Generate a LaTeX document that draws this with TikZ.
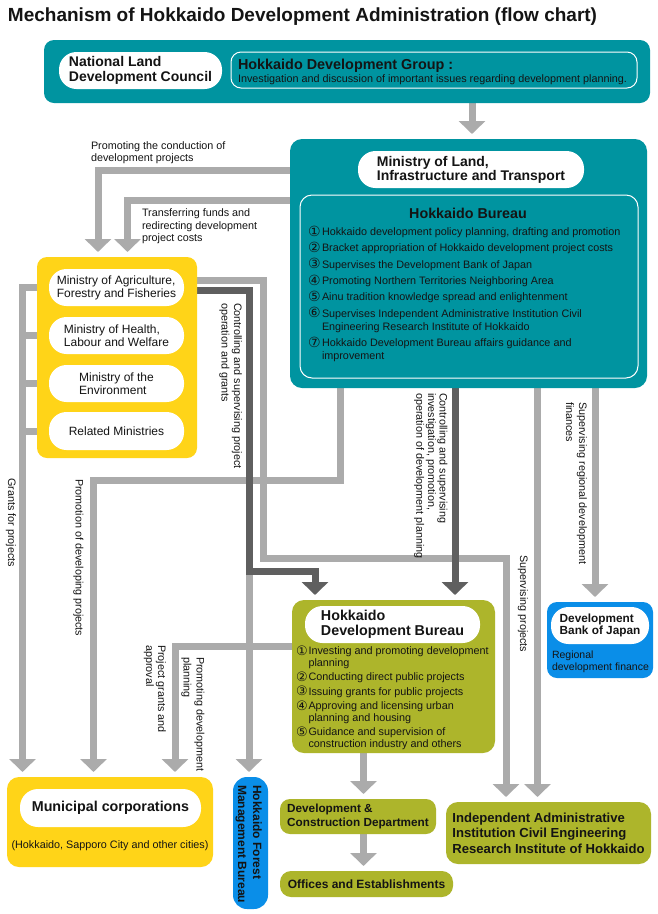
\documentclass[tikz,border=0pt]{standalone}
\usepackage{fontspec}
\setmainfont{Liberation Sans}
\newfontfamily\symf{DejaVu Sans}
\usetikzlibrary{arrows.meta}
\definecolor{teal1}{RGB}{0,148,160}
\definecolor{ylw1}{RGB}{255,212,24}
\definecolor{olive1}{RGB}{173,181,43}
\definecolor{blue1}{RGB}{10,142,232}
\definecolor{lgray}{RGB}{171,171,171}
\definecolor{dgray}{RGB}{95,95,95}
\definecolor{txt}{RGB}{20,20,20}
\pgfdeclarelayer{bg}
\pgfsetlayers{bg,main}
\newcommand\fsz[2]{\fontsize{#1}{#2}\selectfont}
\newcommand\cnum[3]{\makebox[#1][l]{\smash{\raisebox{-0.6pt}{\symf\fontsize{#2}{#2}\selectfont #3}}}}
\tikzset{
  box/.style={rectangle, inner sep=0pt, outer sep=0pt, anchor=north west},
  pill/.style={box, fill=white, text=txt},
  lg/.style={draw=lgray, line width=7pt, line join=miter},
  dg/.style={draw=dgray, line width=7pt, line join=miter},
  arrowend/.style={-{Triangle[width=26pt,length=13pt]}, shorten >=5pt},
  lbl/.style={inner sep=0pt, outer sep=0pt, anchor=base west, text=txt, font=\fsz{10.8}{13}},
  vlbl/.style={lbl, rotate=-90},
}
\begin{document}
\begin{tikzpicture}[x=1pt,y=-1pt]
\useasboundingbox (0,0) rectangle (658,914);
\begin{pgfonlayer}{bg}
\fill[white] (0,0) rectangle (658,914);
\end{pgfonlayer}

% title
\node[lbl, font=\fsz{19}{22}\bfseries] (title) at (8,21.7) {Mechanism of Hokkaido Development Administration (flow chart)};

% top box
\node[box, fill=teal1, rounded corners=10pt, minimum width=606pt, minimum height=63pt] (top) at (44,40) {};
\node[pill, rounded corners=17.5pt, minimum width=163pt, minimum height=37pt, align=left, font=\fsz{14}{15}\bfseries] (nlc) at (59,52) {National Land\\Development Council};
\node[box, fill=teal1, draw=white, line width=1pt, rounded corners=10pt, minimum width=406pt, minimum height=36pt] (hdg) at (231,52) {};
\node[lbl, font=\fsz{14.4}{15}\bfseries] (hdgt) at (238,69.2) {Hokkaido Development Group :};
\node[lbl] (hdgd) at (238,82.9) {Investigation and discussion of important issues regarding development planning.};

% MLIT
\node[box, fill=teal1, rounded corners=12pt, minimum width=357pt, minimum height=249pt] (mlit) at (290,139) {};
\node[pill, rounded corners=17.5pt, minimum width=226pt, minimum height=37pt, align=left, font=\fsz{14}{14}\bfseries] (mlitp) at (358,151) {Ministry of Land,\\Infrastructure and Transport};
\node[box, fill=teal1, draw=white, line width=1pt, rounded corners=12pt, minimum width=338pt, minimum height=183pt] (hb) at (300,195) {};
\node[lbl, anchor=base, font=\fsz{14.3}{15}\bfseries] (hbt) at (468,218) {Hokkaido Bureau};
\node[lbl] (hbl) at (308,235.6) {\parbox[t]{325pt}{\fsz{10.8}{13}%
\cnum{14pt}{14}{①}Hokkaido development policy planning, drafting and promotion\\[3.3pt]
\cnum{14pt}{14}{②}Bracket appropriation of Hokkaido development project costs\\[3.3pt]
\cnum{14pt}{14}{③}Supervises the Development Bank of Japan\\[3.3pt]
\cnum{14pt}{14}{④}Promoting Northern Territories Neighboring Area\\[3.3pt]
\cnum{14pt}{14}{⑤}Ainu tradition knowledge spread and enlightenment\\[3.3pt]
\cnum{14pt}{14}{⑥}Supervises Independent Administrative Institution Civil\\
\hspace*{14pt}Engineering Research Institute of Hokkaido\\[3.3pt]
\cnum{14pt}{14}{⑦}Hokkaido Development Bureau affairs guidance and\\
\hspace*{14pt}improvement}};

% ministries
\node[box, fill=ylw1, rounded corners=10pt, minimum width=160pt, minimum height=201pt] (ylw) at (37,257) {};
\node[pill, rounded corners=17.5pt, minimum width=135pt, minimum height=37pt, align=left, font=\fsz{12}{13}] (maff) at (49,269) {Ministry of Agriculture,\\Forestry and Fisheries};
\node[pill, rounded corners=17.5pt, minimum width=135pt, minimum height=37pt, align=left, font=\fsz{12}{13}] (mhlw) at (49,317) {Ministry of Health,\\Labour and Welfare};
\node[pill, rounded corners=17.5pt, minimum width=135pt, minimum height=37pt, align=left, font=\fsz{12}{13}] (moe) at (49,365) {Ministry of the\\Environment};
\node[pill, rounded corners=17.5pt, minimum width=135pt, minimum height=38pt, font=\fsz{12}{13}] (rel) at (49,412) {Related Ministries};

% Hokkaido Development Bureau
\node[box, fill=olive1, rounded corners=12pt, minimum width=203pt, minimum height=153pt] (hdb) at (292,600) {};
\node[pill, rounded corners=17.5pt, minimum width=175pt, minimum height=37pt, align=left, font=\fsz{14.3}{15}\bfseries] (hdbp) at (305,606) {Hokkaido\\Development Bureau};
\node[lbl] (hdbl) at (296,654.8) {\parbox[t]{195pt}{\fsz{10.8}{11.5}%
\cnum{12.5pt}{13}{①}Investing and promoting development\\
\hspace*{12.5pt}planning\\[3pt]
\cnum{12.5pt}{13}{②}Conducting direct public projects\\[3pt]
\cnum{12.5pt}{13}{③}Issuing grants for public projects\\[3pt]
\cnum{12.5pt}{13}{④}Approving and licensing urban\\
\hspace*{12.5pt}planning and housing\\[3pt]
\cnum{12.5pt}{13}{⑤}Guidance and supervision of\\
\hspace*{12.5pt}construction industry and others}};

% Development Bank of Japan
\node[box, fill=blue1, rounded corners=10pt, minimum width=106pt, minimum height=76pt] (dbj) at (547,602) {};
\node[pill, rounded corners=17.5pt, minimum width=98pt, minimum height=37pt, align=left, font=\fsz{11.8}{12}\bfseries] (dbjp) at (551,607) {Development\\Bank of Japan};
\node[lbl] (dbjt) at (552,658.8) {\parbox[t]{100pt}{\fsz{10.5}{12}Regional\\development finance}};

% Municipal corporations
\node[box, fill=ylw1, rounded corners=12pt, minimum width=206pt, minimum height=90pt] (mun) at (7,777) {};
\node[pill, rounded corners=18pt, minimum width=181pt, minimum height=38pt, font=\fsz{14.3}{15}\bfseries] (munp) at (20,789) {Municipal corporations};
\node[lbl, anchor=base] (munt) at (110,848) {(Hokkaido, Sapporo City and other cities)};

% Forest bureau
\node[box, fill=blue1, rounded corners=14pt, minimum width=35pt, minimum height=132pt] (forest) at (233,777) {};
\node[vlbl] (forestt) at (253,785) {\parbox[t]{130pt}{\fsz{12}{15}\bfseries Hokkaido Forest\\Management Bureau}};

% lower olive boxes
\node[box, fill=olive1, rounded corners=10pt, minimum width=156pt, minimum height=35pt, align=left, text=txt, font=\fsz{11.75}{14}\bfseries] (dcd) at (280,799) {Development \&\\Construction Department};
\node[box, fill=olive1, rounded corners=11pt, minimum width=173pt, minimum height=26pt, text=txt, font=\fsz{12}{14}\bfseries] (off) at (280,871) {Offices and Establishments};
\node[box, fill=olive1, rounded corners=12pt, minimum width=205pt, minimum height=62pt, align=left, text=txt, font=\fsz{13.1}{15.5}\bfseries] (inst) at (446,802) {Independent Administrative\\Institution Civil Engineering\\Research Institute of Hokkaido};

% labels
\node[lbl] (l1) at (91,149.9) {\parbox[t]{200pt}{\fsz{10.8}{11.5}Promoting the conduction of\\development projects}};
\node[lbl] (l2) at (142,216.9) {\parbox[t]{200pt}{\fsz{10.8}{12.5}Transferring funds and\\redirecting development\\project costs}};
\node[vlbl] (l3) at (234.2,303) {\parbox[t]{200pt}{\fsz{10.8}{12.5}Controlling and supervising project\\operation and grants}};
\node[vlbl] (l4) at (8.2,478) {Grants for projects};
\node[vlbl] (l5) at (75.7,479) {Promotion of developing projects};
\node[vlbl] (l6) at (439.7,393) {\parbox[t]{200pt}{\fsz{10.8}{11.7}Controlling and supervising\\investigation, promotion,\\operation of development planning}};
\node[vlbl] (l7) at (579.2,402) {\parbox[t]{200pt}{\fsz{10.8}{13}Supervising regional development\\finances}};
\node[vlbl] (l8) at (520.2,555) {Supervising projects};
\node[vlbl] (l9) at (158.2,645) {\parbox[t]{200pt}{\fsz{10.8}{12}Project grants and\\approval}};
\node[vlbl] (l10) at (196.7,657) {\parbox[t]{200pt}{\fsz{10.8}{13}Promoting development\\planning}};

% bend points
\coordinate (k1) at (98,170);
\coordinate (k2) at (127.5,200);
\coordinate (k3) at (472,0);
\coordinate (gx) at (22.5,287);
\coordinate (m1) at (263.5,280.5);
\coordinate (m2) at (506,558.5);
\coordinate (d1) at (249,290.5);
\coordinate (d2) at (315,571);
\coordinate (p1) at (340.5,480);
\coordinate (p2) at (93.5,480);
\coordinate (p3) at (455,0);
\coordinate (p4) at (537.5,0);
\coordinate (p5) at (595,0);
\coordinate (h1) at (175,646.5);
\coordinate (h2) at (363.5,0);

\begin{pgfonlayer}{bg}
\draw[lg, arrowend] (top.south -| k3) -- (mlit.north -| k3);
\draw[lg, arrowend] (mlit.west |- k1) -- (k1) -- (ylw.north -| k1);
\draw[lg, arrowend] (mlit.west |- k2) -- (k2) -- (ylw.north -| k2);
\draw[lg, arrowend] (maff.west) -- (maff.west -| gx) -- (mun.north -| gx);
\draw[lg] (mhlw.west) -- (mhlw.west -| gx);
\draw[lg] (moe.west) -- (moe.west -| gx);
\draw[lg] (rel.west) -- (rel.west -| gx);
\draw[lg, arrowend] (maff.east |- m1) -- (m1) |- (m2) -- (inst.north -| m2);
\draw[lg, arrowend] (maff.east |- d1) -- (d1) -- (forest.north -| d1);
\draw[lg, arrowend] (mlit.south -| p1) -- (p1) -- (p2) -- (mun.north -| p2);
\draw[lg, arrowend] (mlit.south -| p4) -- (inst.north -| p4);
\draw[lg, arrowend] (mlit.south -| p5) -- (dbj.north -| p5);
\draw[lg, arrowend] (hdb.west |- h1) -- (h1) -- (mun.north -| h1);
\draw[lg, arrowend] (hdb.south -| h2) -- (dcd.north -| h2);
\draw[lg, arrowend] (dcd.south -| h2) -- (off.north -| h2);
\draw[dg, arrowend] (maff.east |- d1) -- (d1) |- (d2) -- (hdb.north -| d2);
\draw[dg, arrowend] (mlit.south -| p3) -- (hdb.north -| p3);
\end{pgfonlayer}
\end{tikzpicture}
\end{document}
